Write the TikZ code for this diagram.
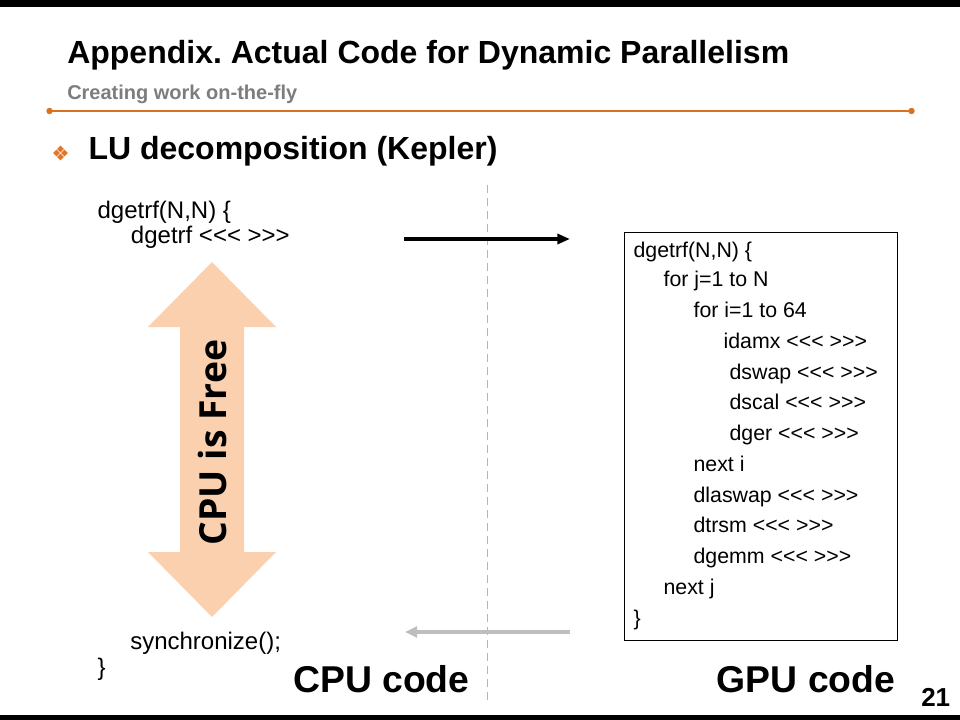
\documentclass[tikz,border=0pt]{standalone}
\usepackage{fontspec}
\setmainfont{Liberation Sans}
\newfontfamily\osans{Open Sans}
\usetikzlibrary{arrows.meta}
\frenchspacing
\newcommand\ltri{<\kern0pt<\kern0pt<}
\newcommand\gtri{>\kern0pt>\kern0pt>}
\definecolor{orangeline}{RGB}{217,113,31}
\definecolor{bulletorange}{RGB}{226,118,40}
\definecolor{subgray}{RGB}{125,125,125}
\definecolor{peach}{RGB}{250,208,174}
\definecolor{dashorange}{RGB}{238,165,112}
\definecolor{arrowgray}{RGB}{190,190,190}
\tikzset{
  txt/.style={anchor=base west, inner sep=0pt},
  codeleft/.style={txt, font=\fontsize{18}{21}\selectfont},
  codegpu/.style={txt, font=\fontsize{16}{19}\selectfont},
  bigbold/.style={txt, font=\fontsize{28}{32}\selectfont\bfseries},
  diam/.style={fill=bulletorange},
}
\begin{document}
\begin{tikzpicture}[x=0.75pt,y=-0.75pt]
\useasboundingbox (0,0) rectangle (960,720);
\fill[white] (0,0) rectangle (960,720);
\fill[black] (0,0) rectangle (960,7.5);
\fill[black] (0,715) rectangle (960,720);

% title area
\node[txt, font=\fontsize{24}{28}\selectfont\bfseries] (title) at (67,63.3) {Appendix. Actual Code for Dynamic Parallelism};
\node[txt, font=\fontsize{15}{18}\selectfont\bfseries, text=subgray] (subtitle) at (67,100) {Creating work on-the-fly};
\draw[orangeline, line width=2.2pt] (49.5,111) -- (911.5,111);
\fill[orangeline] (49.5,111) circle[radius=2.4pt];
\fill[orangeline] (911.5,111) circle[radius=2.4pt];

% bullet
\foreach \dx/\dy in {-4/0, 4/0, 0/-4, 0/4}{
  \fill[diam] (60.5+\dx,153+\dy) ++(-3.4,0) -- ++(3.4,-3.4) -- ++(3.4,3.4) -- ++(-3.4,3.4) -- cycle;
}
\node[txt, font=\fontsize{24}{28}\selectfont\bfseries] (lu) at (88.3,160) {LU decomposition (Kepler)};

% divider
\draw[dashorange, line width=1.4pt, dash pattern=on 6pt off 3.75pt] (487.5,185) -- (487.5,700);

% CPU code
\node[codeleft] (c1) at (97.3,218.3) {dgetrf(N,N) \{};
\node[codeleft] (c2) at (130.7,243.3) {dgetrf \ltri{} \gtri};
\node[codeleft] (c3) at (130,649) {synchronize();};
\node[codeleft] (c4) at (97.3,675) {\}};

% CPU is Free double arrow
\fill[peach] (212,262) -- (276,327) -- (244,327) -- (244,552) -- (276,552) -- (212,617)
  -- (148,552) -- (180,552) -- (180,327) -- (148,327) -- cycle;
\node[rotate=90, inner sep=0pt, font=\osans\fontsize{28}{32}\selectfont\bfseries] (free) at (212.5,442.5) {CPU is Free};

% arrows
\coordinate (launchA) at (404,239);
\coordinate (launchB) at (570,239);
\coordinate (syncA) at (570,632);
\coordinate (syncB) at (405,632);
\draw[line width=2.5pt, -{Triangle[length=9.5pt,width=7.5pt]}] (launchA) -- (launchB);
\draw[arrowgray, line width=3pt, -{Triangle[length=9pt,width=8pt]}] (syncA) -- (syncB);

% GPU box
\node[draw, line width=0.75pt, inner sep=0pt, minimum width=204.3pt, minimum height=306.2pt, anchor=north west] (gpubox) at (624.3,231.7) {};
\node[codegpu] (g1) at (633.3,258) {dgetrf(N,N) \{};
\node[codegpu] (g2) at (663.3,286.7) {for j=1 to N};
\node[codegpu] (g3) at (693.3,317.7) {for i=1 to 64};
\node[codegpu] (g4) at (723.3,348.3) {idamx \ltri{} \gtri};
\node[codegpu] (g5) at (729.3,379) {dswap \ltri{} \gtri};
\node[codegpu] (g6) at (729.3,409.5) {dscal \ltri{} \gtri};
\node[codegpu] (g7) at (729.3,440.3) {dger \ltri{} \gtri};
\node[codegpu] (g8) at (693.3,471.3) {next i};
\node[codegpu] (g9) at (693.3,502.3) {dlaswap \ltri{} \gtri};
\node[codegpu] (g10) at (693.3,532.7) {dtrsm \ltri{} \gtri};
\node[codegpu] (g11) at (693.3,563.3) {dgemm \ltri{} \gtri};
\node[codegpu] (g12) at (663.3,594) {next j};
\node[codegpu] (g13) at (633.3,625) {\}};

% labels
\node[bigbold] (cpulabel) at (293,692) {CPU code};
\node[bigbold] (gpulabel) at (716.5,692) {GPU code};
\node[txt, font=\fontsize{19.5}{22}\selectfont\bfseries] (pagenum) at (921,706) {21};
\end{tikzpicture}
\end{document}
